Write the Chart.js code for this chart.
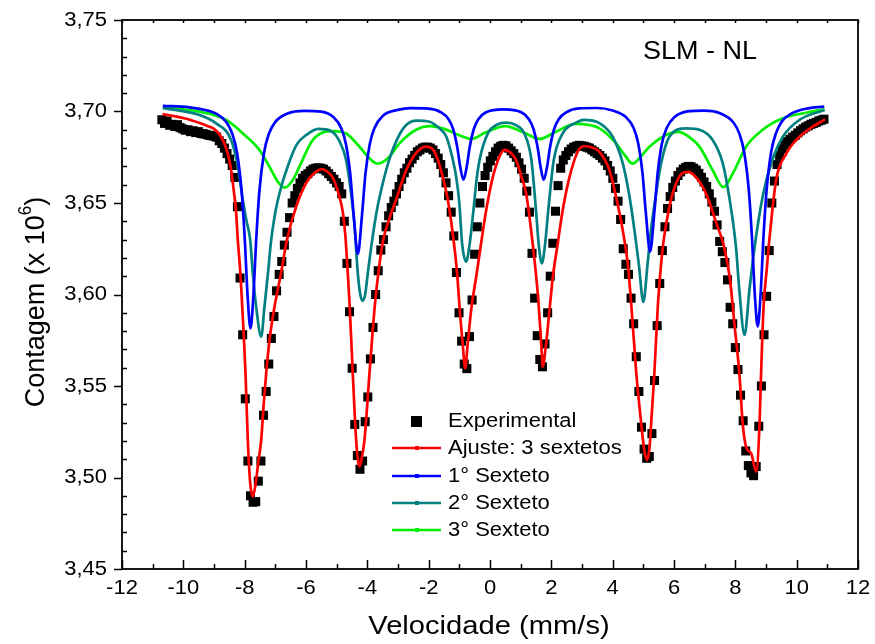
<!DOCTYPE html>
<html><head><meta charset="utf-8">
<script src="https://cdn.jsdelivr.net/npm/chart.js@4.4.1/dist/chart.umd.min.js"></script>
<style>html,body{margin:0;padding:0;background:#fff;}#wrap{width:875px;height:644px;}</style>
</head><body><div id="wrap"><canvas id="c" width="875" height="644"></canvas></div>
<script>
// ---- data ----
const expX = [-10.7,-10.615,-10.53,-10.445,-10.36,-10.275,-10.19,-10.105,-10.02,-9.935,-9.85,-9.765,-9.68,-9.595,-9.51,-9.425,-9.34,-9.255,-9.17,-9.085,-9.0,-8.915,-8.83,-8.745,-8.66,-8.575,-8.49,-8.405,-8.32,-8.235,-8.15,-8.065,-7.98,-7.895,-7.81,-7.725,-7.64,-7.555,-7.47,-7.385,-7.3,-7.215,-7.13,-7.045,-6.96,-6.875,-6.79,-6.705,-6.62,-6.535,-6.45,-6.365,-6.28,-6.195,-6.11,-6.025,-5.94,-5.855,-5.77,-5.685,-5.6,-5.515,-5.43,-5.345,-5.26,-5.175,-5.09,-5.005,-4.92,-4.835,-4.75,-4.665,-4.58,-4.495,-4.41,-4.325,-4.24,-4.155,-4.07,-3.985,-3.9,-3.815,-3.73,-3.645,-3.56,-3.475,-3.39,-3.305,-3.22,-3.135,-3.05,-2.965,-2.88,-2.795,-2.71,-2.625,-2.54,-2.455,-2.37,-2.285,-2.2,-2.115,-2.03,-1.945,-1.86,-1.775,-1.69,-1.605,-1.52,-1.435,-1.35,-1.265,-1.18,-1.095,-1.01,-0.925,-0.84,-0.755,-0.67,-0.585,-0.5,-0.415,-0.33,-0.245,-0.16,-0.075,0.01,0.095,0.18,0.265,0.35,0.435,0.52,0.605,0.69,0.775,0.86,0.945,1.03,1.115,1.2,1.285,1.37,1.455,1.54,1.625,1.71,1.795,1.88,1.965,2.05,2.135,2.22,2.305,2.39,2.475,2.56,2.645,2.73,2.815,2.9,2.985,3.07,3.155,3.24,3.325,3.41,3.495,3.58,3.665,3.75,3.835,3.92,4.005,4.09,4.175,4.26,4.345,4.43,4.515,4.6,4.685,4.77,4.855,4.94,5.025,5.11,5.195,5.28,5.365,5.45,5.535,5.62,5.705,5.79,5.875,5.96,6.045,6.13,6.215,6.3,6.385,6.47,6.555,6.64,6.725,6.81,6.895,6.98,7.065,7.15,7.235,7.32,7.405,7.49,7.575,7.66,7.745,7.83,7.915,8.0,8.085,8.17,8.255,8.34,8.425,8.51,8.595,8.68,8.765,8.85,8.935,9.02,9.105,9.19,9.275,9.36,9.445,9.53,9.615,9.7,9.785,9.87,9.955,10.04,10.125,10.21,10.295,10.38,10.465,10.55,10.635,10.72,10.805,10.89];
const expY = [3.6955,3.6935,3.6948,3.6925,3.6930,3.6918,3.6928,3.6912,3.6905,3.6898,3.6900,3.6890,3.6895,3.6885,3.6890,3.6880,3.6878,3.6875,3.6870,3.6868,3.6865,
3.686,3.684,3.6825,3.680,3.677,3.674,3.6705,3.664,3.648,3.609,3.578,3.543,3.509,
3.490,3.4865,3.4868,3.498,3.509,3.534,3.547,3.562,3.576,3.588,3.602,3.611,3.618,3.627,
3.634,3.642,3.650,3.654,3.658,3.661,3.6635,3.665,3.666,3.6675,3.6685,3.669,3.6692,3.669,3.6685,3.6675,3.666,3.6645,3.663,3.661,3.659,3.655,
3.640,3.617,3.5906,3.5597,3.529,3.512,3.5045,3.509,3.5305,3.544,3.5648,3.582,3.600,3.613,3.6243,
3.630,3.637,3.643,3.6475,3.651,3.655,3.659,3.663,3.6665,3.669,3.672,3.674,3.676,3.678,3.679,3.680,3.6805,3.6805,3.680,3.679,3.677,3.6745,3.671,3.6665,3.661,3.654,3.645,
3.632,3.612,3.590,3.5745,3.562,3.5595,3.577,3.597,3.622,3.637,3.650,3.659,3.665,3.6695,3.673,3.6755,3.678,3.680,3.681,3.6815,3.6812,3.680,3.6785,3.677,3.675,3.672,3.6685,3.6635,3.6565,3.645,3.6225,3.598,3.5775,3.5645,3.5605,3.573,3.590,3.610,3.628,3.6455,3.6595,3.669,3.6735,3.676,3.678,3.6795,3.6805,3.681,3.6815,3.6812,3.681,3.6805,3.680,3.679,3.678,
3.677,3.676,3.6745,3.673,3.6705,3.6675,3.6635,3.658,3.651,3.641,3.625,3.6165,3.611,3.598,3.584,3.566,3.547,3.5275,3.5155,3.5105,3.5115,3.524,3.553,3.583,3.606,3.624,3.637,3.647,3.6535,3.6585,3.662,3.665,3.667,3.6685,3.6695,3.670,3.6698,3.669,3.668,3.6662,3.664,3.6615,3.659,3.655,3.6505,3.6455,3.638,3.629,3.6234,3.6175,3.608,3.593,3.584,3.571,3.559,3.545,3.531,3.5145,3.5065,3.5025,3.501,3.506,3.528,3.550,3.578,3.599,
3.624,3.650,3.662,3.671,3.676,3.6795,3.682,3.6835,3.6848,3.686,3.687,3.6883,3.6895,3.6905,3.6915,3.6922,3.693,3.6935,3.694,3.6948,3.6953,3.6958];

const fitX = [-10.68,-10.3,-9.9,-9.47,-9.2,-9.0,-8.8,-8.65,-8.55,-8.45,-8.35,-8.28,-8.224,-8.15,-8.10,-8.03,-7.973,-7.898,-7.82,-7.735,-7.64,-7.55,-7.461,-7.38,-7.298,-7.19,-7.03,-6.81,-6.62,-6.32,-5.99,-5.72,-5.47,-5.30,-5.13,-4.91,-4.80,-4.72,-4.65,-4.58,-4.475,-4.365,-4.30,-4.256,-4.19,-4.093,-3.93,-3.75,-3.60,-3.48,-3.25,-3.06,-2.73,-2.40,-2.09,-1.85,-1.65,-1.40,-1.22,-1.08,-0.97,-0.89,-0.81,-0.725,-0.615,-0.45,-0.29,-0.125,0.09,0.30,0.47,0.70,0.85,1.05,1.18,1.39,1.56,1.67,1.72,1.83,1.94,2.05,2.21,2.37,2.59,2.86,3.05,3.30,3.57,3.895,4.11,4.33,4.49,4.60,4.77,4.93,5.03,5.125,5.20,5.255,5.36,5.47,5.57,5.665,5.85,6.05,6.25,6.45,6.72,7.05,7.40,7.62,7.82,7.97,8.13,8.24,8.35,8.52,8.68,8.79,8.84,8.92,9.02,9.11,9.33,9.66,10.09,10.52,10.93];
const fitY = [3.6986,3.6975,3.6960,3.6937,3.6920,3.6905,3.6870,3.6820,3.6770,3.6690,3.6560,3.6450,3.6300,3.6140,3.6000,3.5780,3.5570,3.5205,3.4970,3.4895,3.4970,3.5090,3.5205,3.5400,3.5570,3.5750,3.5930,3.6120,3.6300,3.6480,3.6610,3.6665,3.6685,3.6670,3.6640,3.6535,3.6450,3.6330,3.6150,3.5950,3.5570,3.5205,3.5090,3.5060,3.5100,3.5205,3.5570,3.5950,3.6170,3.6300,3.6430,3.6520,3.6680,3.6775,3.6808,3.6790,3.6710,3.6540,3.6340,3.6130,3.5880,3.5730,3.5597,3.5733,3.5915,3.6097,3.6280,3.6460,3.6640,3.6750,3.6790,3.6770,3.6735,3.6630,3.6550,3.6280,3.6000,3.5733,3.5606,3.5733,3.5915,3.6097,3.6280,3.6460,3.6640,3.6780,3.6810,3.6805,3.6780,3.6680,3.6534,3.6350,3.6170,3.5960,3.5570,3.5296,3.5150,3.5096,3.5160,3.5296,3.5570,3.5930,3.6150,3.6300,3.6480,3.6600,3.6660,3.6670,3.6640,3.6550,3.6380,3.6270,3.6090,3.5840,3.5570,3.5296,3.5168,3.5130,3.5032,3.5296,3.5570,3.5930,3.6130,3.6300,3.6626,3.6770,3.6862,3.6917,3.6957];

const s1X = [-10.67,-9.8,-9.2,-8.9,-8.6,-8.4,-8.25,-8.1,-8.0,-7.9,-7.81,-7.72,-7.62,-7.52,-7.37,-7.22,-7.0,-6.6,-6.06,-5.5,-5.1,-4.85,-4.7,-4.56,-4.45,-4.31,-4.17,-4.06,-3.92,-3.77,-3.5,-3.0,-2.59,-2.0,-1.6,-1.35,-1.2,-1.07,-0.97,-0.865,-0.76,-0.66,-0.53,-0.38,-0.13,0.444,1.02,1.27,1.42,1.55,1.65,1.753,1.86,1.96,2.09,2.24,2.49,2.9,3.49,4.0,4.43,4.68,4.83,4.97,5.08,5.22,5.36,5.47,5.61,5.76,6.01,6.5,6.975,7.5,7.94,8.14,8.29,8.44,8.54,8.64,8.73,8.82,8.92,9.02,9.17,9.32,9.52,9.82,10.3,10.9];
const s1Y = [3.7031,3.7023,3.7005,3.6986,3.6943,3.6877,3.6776,3.6567,3.6313,3.5980,3.5815,3.5980,3.6310,3.6565,3.6773,3.6874,3.6943,3.6989,3.7003,3.6999,3.6968,3.6909,3.6824,3.6663,3.6443,3.6222,3.6442,3.6662,3.6823,3.6909,3.6976,3.7009,3.7018,3.7016,3.6996,3.6958,3.6903,3.6807,3.6697,3.6627,3.6697,3.6807,3.6903,3.6958,3.6996,3.7012,3.6996,3.6958,3.6903,3.6807,3.6697,3.6627,3.6697,3.6807,3.6903,3.6958,3.6996,3.7017,3.7019,3.7005,3.6970,3.6911,3.6828,3.6667,3.6450,3.6234,3.6450,3.6667,3.6828,3.6910,3.6969,3.7002,3.7005,3.6991,3.6940,3.6875,3.6776,3.6569,3.6317,3.5987,3.5826,3.5989,3.6320,3.6572,3.6780,3.6879,3.6946,3.6988,3.7015,3.7027];

const s2X = [-10.67,-9.47,-8.93,-8.44,-8.22,-8.06,-7.95,-7.82,-7.735,-7.625,-7.46,-7.355,-7.25,-7.135,-7.0,-6.86,-6.6,-6.3,-5.99,-5.6,-5.2,-4.9,-4.7,-4.55,-4.42,-4.31,-4.23,-4.15,-4.07,-3.985,-3.84,-3.70,-3.55,-3.28,-2.84,-2.41,-1.97,-1.60,-1.43,-1.21,-1.10,-1.0,-0.91,-0.78,-0.66,-0.54,-0.44,-0.34,-0.07,0.25,0.53,0.85,1.12,1.35,1.50,1.585,1.69,1.80,1.90,2.08,2.37,2.81,3.05,3.57,4.0,4.33,4.55,4.71,4.85,5.0,5.14,5.25,5.40,5.58,5.85,6.40,6.83,7.26,7.59,7.80,8.02,8.13,8.30,8.46,8.63,8.89,9.17,9.55,10.09,10.91];
const s2Y = [3.7020,3.6981,3.6935,3.6844,3.6698,3.6516,3.641,3.6298,3.6116,3.5933,3.5770,3.5933,3.6100,3.6298,3.6450,3.6556,3.6698,3.6820,3.6872,3.6905,3.6895,3.6835,3.6740,3.6580,3.6380,3.6116,3.6000,3.5966,3.6000,3.6116,3.6300,3.6450,3.6570,3.6740,3.6905,3.6950,3.6944,3.6900,3.6865,3.6735,3.6640,3.6500,3.6280,3.6180,3.6280,3.6460,3.6625,3.6735,3.6880,3.6930,3.6939,3.6925,3.6880,3.6735,3.6460,3.6280,3.6170,3.6280,3.6460,3.6735,3.6880,3.6939,3.6954,3.6936,3.6862,3.6717,3.6534,3.6352,3.6170,3.5960,3.6170,3.6352,3.6534,3.6717,3.6862,3.6908,3.6900,3.6844,3.6717,3.6534,3.6261,3.6025,3.5779,3.6025,3.6261,3.6534,3.6717,3.6862,3.6954,3.7008];

const s3X = [-10.67,-9.47,-8.60,-8.06,-7.52,-7.19,-6.92,-6.70,-6.43,-6.21,-5.78,-5.13,-4.69,-4.26,-3.93,-3.66,-3.33,-2.95,-2.41,-1.97,-1.50,-1.00,-0.60,-0.15,0.50,1.10,1.62,2.10,2.80,3.57,4.11,4.40,4.65,4.90,5.20,5.85,6.15,6.50,6.83,7.26,7.61,7.92,8.35,8.89,9.55,10.31,10.91];
const s3Y = [3.7023,3.6999,3.6954,3.6880,3.6790,3.6698,3.6616,3.6584,3.6626,3.6700,3.6844,3.6893,3.6880,3.6808,3.6744,3.6715,3.6744,3.6826,3.6900,3.6920,3.6905,3.6870,3.6850,3.6885,3.6920,3.6885,3.6850,3.6885,3.6932,3.6908,3.6826,3.6760,3.6715,3.6750,3.6808,3.6880,3.6889,3.6860,3.6808,3.6680,3.6586,3.6662,3.6808,3.6900,3.6963,3.6993,3.7012];

const xTickValues = [-12,-10,-8,-6,-4,-2,0,2,4,6,8,10,12];
const xTickLabels = ['-12','-10','-8','-6','-4','-2','0','2','4','6','8','10','12'];
const yTickValues = [3.45,3.50,3.55,3.60,3.65,3.70,3.75];
const yTickLabels = ['3,45','3,50','3,55','3,60','3,65','3,70','3,75'];
const seriesNames = ['Experimental','Ajuste: 3 sextetos','1\u00B0 Sexteto','2\u00B0 Sexteto','3\u00B0 Sexteto'];
const seriesColors = ['#000000','#ff0000','#0000ff','#008080','#00ee00'];
const xTitle = 'Velocidade (mm/s)';
const yTitleMain = 'Contagem (x 10';
const yTitleSup = '6';
const annotation = 'SLM - NL';

const pts = (xs, ys) => xs.map((x, i) => ({x: x, y: ys[i]}));
const FONT = '"Liberation Sans", Arial, sans-serif';

function txt(ctx, s, x, y, size, align, sx) {
  ctx.save();
  ctx.translate(x, y);
  ctx.scale(sx, 1);
  ctx.font = size + 'px ' + FONT;
  ctx.textAlign = align;
  ctx.textBaseline = 'middle';
  ctx.fillStyle = '#000';
  ctx.fillText(s, 0, 0);
  ctx.restore();
}

const decor = {
  id: 'decor',
  afterDraw(chart) {
    const ctx = chart.ctx, a = chart.chartArea, xs = chart.scales.x, ys = chart.scales.y;
    ctx.save();
    ctx.strokeStyle = '#000';
    ctx.lineWidth = 1.8;
    ctx.strokeRect(a.left, a.top, a.right - a.left, a.bottom - a.top);
    ctx.lineWidth = 1.5;
    ctx.beginPath();
    for (let v = -12; v <= 12; v += 1) {
      const px = Math.round(xs.getPixelForValue(v)) + 0.5;
      const len = (v % 2 === 0) ? 9 : 5;
      ctx.moveTo(px, a.bottom); ctx.lineTo(px, a.bottom - len);
      ctx.moveTo(px, a.top); ctx.lineTo(px, a.top + 3);
    }
    for (let k = 0; k <= 30; k++) {
      const v = 3.45 + k * 0.01;
      const py = Math.round(ys.getPixelForValue(v)) + 0.5;
      if (k % 5 === 0) { ctx.moveTo(a.left - 8, py); ctx.lineTo(a.left, py); }
      else { ctx.moveTo(a.left, py); ctx.lineTo(a.left + 5, py); }
    }
    ctx.stroke();
    xTickValues.forEach((v, i) => txt(ctx, xTickLabels[i], xs.getPixelForValue(v), 588, 20, 'center', 1.1));
    yTickValues.forEach((v, i) => txt(ctx, yTickLabels[i], 107, ys.getPixelForValue(v), 20, 'right', 1.1));
    txt(ctx, xTitle, (a.left + a.right) / 2 - 1, 627, 26.5, 'center', 1.1);
    ctx.save();
    ctx.translate(35, 302);
    ctx.rotate(-Math.PI / 2);
    ctx.scale(1, 1.05);
    const big = '27px ' + FONT, small = '17px ' + FONT;
    ctx.font = big;
    const w1 = ctx.measureText(yTitleMain).width;
    ctx.font = small;
    const w2 = ctx.measureText(yTitleSup).width;
    ctx.font = big;
    const w3 = ctx.measureText(')').width;
    const tot = w1 + w2 + w3;
    ctx.fillStyle = '#000';
    ctx.textBaseline = 'alphabetic';
    ctx.textAlign = 'left';
    ctx.fillText(yTitleMain, -tot / 2, 9);
    ctx.font = small;
    ctx.fillText(yTitleSup, -tot / 2 + w1, -4);
    ctx.font = big;
    ctx.fillText(')', -tot / 2 + w1 + w2, 9);
    ctx.restore();
    txt(ctx, annotation, 700, 52, 25, 'center', 1.08);
    const rows = [421, 448, 476, 503, 530];
    for (let i = 0; i < seriesNames.length; i++) {
      const yy = rows[i];
      ctx.fillStyle = seriesColors[i];
      if (i === 0) {
        ctx.fillRect(411, yy - 5, 11, 11);
      } else {
        ctx.strokeStyle = seriesColors[i];
        ctx.lineWidth = 2.6;
        ctx.beginPath(); ctx.moveTo(392, yy); ctx.lineTo(441, yy); ctx.stroke();
        ctx.fillRect(415, yy - 2, 4, 4);
      }
      txt(ctx, seriesNames[i], 448, yy, 20, 'left', 1.1);
    }
    ctx.restore();
  }
};

const lineDs = (label, xs, ys, color, order) => ({
  label: label, data: pts(xs, ys), showLine: true, borderColor: color, backgroundColor: color,
  borderWidth: 2.7, pointRadius: 0, cubicInterpolationMode: 'monotone', order: order
});

new Chart(document.getElementById('c'), {
  type: 'scatter',
  data: {
    datasets: [
      lineDs(seriesNames[1], fitX, fitY, seriesColors[1], 1),
      lineDs(seriesNames[2], s1X, s1Y, seriesColors[2], 2),
      lineDs(seriesNames[3], s2X, s2Y, seriesColors[3], 3),
      lineDs(seriesNames[4], s3X, s3Y, seriesColors[4], 4),
      { label: seriesNames[0], data: pts(expX, expY), pointStyle: 'rect', pointRadius: 6.4,
        backgroundColor: '#000', borderWidth: 0, showLine: false, order: 5 }
    ]
  },
  options: {
    responsive: false, animation: false, devicePixelRatio: 1,
    layout: { padding: { left: 0, right: 17, top: 20, bottom: 0 } },
    plugins: { legend: { display: false }, tooltip: { enabled: false } },
    scales: {
      x: { type: 'linear', min: -12, max: 12, grid: { display: false, drawTicks: false },
           border: { display: false }, ticks: { display: false },
           afterFit: (s) => { s.height = 75; } },
      y: { type: 'linear', min: 3.45, max: 3.75, grid: { display: false, drawTicks: false },
           border: { display: false }, ticks: { display: false },
           afterFit: (s) => { s.width = 122; } }
    }
  },
  plugins: [decor]
});
</script></body></html>
